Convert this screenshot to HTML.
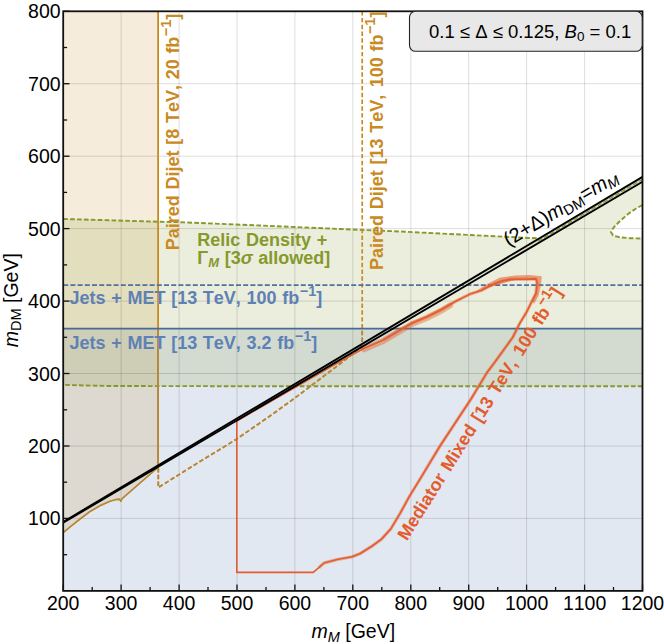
<!DOCTYPE html>
<html><head><meta charset="utf-8"><title>chart</title>
<style>html,body{margin:0;padding:0;background:#fff}svg{display:block}</style></head>
<body>
<svg width="664" height="644" viewBox="0 0 664 644">
<rect width="664" height="644" fill="#fff"/>
<defs><clipPath id="cp"><rect x="63.2" y="11.3" width="579.3" height="579.6"/></clipPath></defs>
<g clip-path="url(#cp)">
<rect x="63.2" y="328.6" width="579.3" height="262.3" fill="#5e81b5" fill-opacity="0.18"/>
<polygon points="63.2,11.3 63.2,532.6 70.0,527.0 78.6,520.1 89.8,511.7 101.0,505.2 110.3,501.1 115.9,499.6 119.6,499.2 120.8,501.3 122.0,498.8 158.1,467.3 158.1,11.3" fill="#c98a22" fill-opacity="0.16"/>
<path d="M63.2 219.0 L100.0 220.0 L157.8 221.7 L180.0 222.2 L260.0 225.5 L340.0 229.0 L400.0 231.5 L460.0 234.5 L520.0 237.5 L538.0 238.3 L538.2 239.0 L642.5 176.9 L642.5 386.2 L560.0 386.2 L400.0 386.2 L225.0 386.2 L160.0 386.1 L110.0 386.0 L85.0 385.5 L63.2 384.8 Z M642.5 205.0 L636.0 208.5 L628.0 214.0 L620.0 221.0 L614.0 227.0 L611.0 232.0 L613.0 235.5 L620.0 237.3 L630.0 238.2 L642.5 238.6 Z" fill="#86992d" fill-opacity="0.17" fill-rule="evenodd"/>
<line x1="121.1" y1="11.3" x2="121.1" y2="590.9" stroke="#000" stroke-opacity="0.135" stroke-width="1"/>
<line x1="179.1" y1="11.3" x2="179.1" y2="590.9" stroke="#000" stroke-opacity="0.135" stroke-width="1"/>
<line x1="237.0" y1="11.3" x2="237.0" y2="590.9" stroke="#000" stroke-opacity="0.135" stroke-width="1"/>
<line x1="294.9" y1="11.3" x2="294.9" y2="590.9" stroke="#000" stroke-opacity="0.135" stroke-width="1"/>
<line x1="352.8" y1="11.3" x2="352.8" y2="590.9" stroke="#000" stroke-opacity="0.135" stroke-width="1"/>
<line x1="410.8" y1="11.3" x2="410.8" y2="590.9" stroke="#000" stroke-opacity="0.135" stroke-width="1"/>
<line x1="468.7" y1="11.3" x2="468.7" y2="590.9" stroke="#000" stroke-opacity="0.135" stroke-width="1"/>
<line x1="526.6" y1="11.3" x2="526.6" y2="590.9" stroke="#000" stroke-opacity="0.135" stroke-width="1"/>
<line x1="584.6" y1="11.3" x2="584.6" y2="590.9" stroke="#000" stroke-opacity="0.135" stroke-width="1"/>
<line x1="63.2" y1="518.4" x2="642.5" y2="518.4" stroke="#000" stroke-opacity="0.135" stroke-width="1"/>
<line x1="63.2" y1="446.0" x2="642.5" y2="446.0" stroke="#000" stroke-opacity="0.135" stroke-width="1"/>
<line x1="63.2" y1="373.5" x2="642.5" y2="373.5" stroke="#000" stroke-opacity="0.135" stroke-width="1"/>
<line x1="63.2" y1="301.1" x2="642.5" y2="301.1" stroke="#000" stroke-opacity="0.135" stroke-width="1"/>
<line x1="63.2" y1="228.6" x2="642.5" y2="228.6" stroke="#000" stroke-opacity="0.135" stroke-width="1"/>
<line x1="63.2" y1="156.2" x2="642.5" y2="156.2" stroke="#000" stroke-opacity="0.135" stroke-width="1"/>
<line x1="63.2" y1="83.7" x2="642.5" y2="83.7" stroke="#000" stroke-opacity="0.135" stroke-width="1"/>
<polyline points="63.2,219.0 100.0,220.0 157.8,221.7 180.0,222.2 260.0,225.5 340.0,229.0 400.0,231.5 460.0,234.5 520.0,237.5 538.0,238.3" fill="none" stroke="#86992d" stroke-width="1.9" stroke-dasharray="4.7 2.2"/>
<polyline points="642.5,386.2 560.0,386.2 400.0,386.2 225.0,386.2 160.0,386.1 110.0,386.0 85.0,385.5 63.2,384.8" fill="none" stroke="#86992d" stroke-width="1.9" stroke-dasharray="4.7 2.2"/>
<polyline points="642.5,205.0 636.0,208.5 628.0,214.0 620.0,221.0 614.0,227.0 611.0,232.0 613.0,235.5 620.0,237.3 630.0,238.2 642.5,238.6" fill="none" stroke="#86992d" stroke-width="1.9" stroke-dasharray="4.7 2.2"/>
<polyline points="63.2,532.6 70.0,527.0 78.6,520.1 89.8,511.7 101.0,505.2 110.3,501.1 115.9,499.6 119.6,499.2 120.8,501.3 122.0,498.8 158.1,467.3" fill="none" stroke="#c98a22" stroke-width="1.5" stroke-linejoin="round"/>
<line x1="158.1" y1="11.3" x2="158.1" y2="468" stroke="#c98a22" stroke-width="1.8"/>
<polyline points="158.3,468.0 158.3,487.5 200.0,461.5 236.0,439.5 270.0,416.0 294.9,398.0 320.0,379.0 344.6,360.3 356.0,351.0 362.2,346.0 362.2,11.3" fill="none" stroke="#c98a22" stroke-width="1.7" stroke-dasharray="4.4 2.4" stroke-linejoin="round"/>
<clipPath id="below"><rect x="63.2" y="328.6" width="579.3" height="262.3"/></clipPath>
<g clip-path="url(#below)">
<polyline points="63.2,532.6 70.0,527.0 78.6,520.1 89.8,511.7 101.0,505.2 110.3,501.1 115.9,499.6 119.6,499.2 120.8,501.3 122.0,498.8 158.1,467.3" fill="none" stroke="#b6883c" stroke-width="1.5" stroke-linejoin="round"/>
<line x1="158.1" y1="11.3" x2="158.1" y2="468" stroke="#b6883c" stroke-width="1.8"/>
<polyline points="158.3,468.0 158.3,487.5 200.0,461.5 236.0,439.5 270.0,416.0 294.9,398.0 320.0,379.0 344.6,360.3 356.0,351.0 362.2,346.0 362.2,11.3" fill="none" stroke="#b6883c" stroke-width="1.7" stroke-dasharray="4.4 2.4" stroke-linejoin="round"/>
</g>
<line x1="63.2" y1="285.2" x2="642.5" y2="285.2" stroke="#4f719f" stroke-width="1.7" stroke-dasharray="5 2.2"/>
<line x1="63.2" y1="328.6" x2="642.5" y2="328.6" stroke="#486a96" stroke-width="1.7"/>
<polyline points="364.1,349.3 383.4,340.9 397.8,332.4 412.3,324.0 426.7,318.0 441.2,310.8 450.0,305.5" fill="none" stroke="#e35c2e" stroke-opacity="0.42" stroke-width="6" stroke-linejoin="round" stroke-linecap="round"/>
<polygon points="476.0,291.0 488.0,283.5 500.0,277.6 515.0,275.6 530.0,275.0 541.8,276.3 541.0,285.0 538.5,296.0 534.0,304.0 532.4,300.3 535.9,293.3 537.1,282.8 535.9,278.9 517.3,279.3" fill="#e35c2e" fill-opacity="0.55"/>
<polyline points="318.8,567.7 324.0,563.0 338.0,559.3 352.0,556.8 359.8,553.7 372.2,546.0 381.5,539.1 390.8,528.9 400.1,513.4 409.4,496.3 420.0,479.2 440.0,446.0 471.0,399.0 480.0,384.2 487.0,372.6 494.0,363.2 503.3,350.4 512.6,337.6 519.6,323.6 526.6,312.0 532.4,300.3 535.9,293.3 537.1,282.8 535.9,278.9 526.6,279.3 517.3,279.3 510.1,279.4 503.0,280.8 495.7,283.3 488.0,287.0 481.2,290.5 470.1,294.1 455.7,301.3 441.2,309.8 426.7,317.0 412.3,323.0 397.8,331.4 383.4,339.9" fill="none" stroke="#e35c2e" stroke-opacity="0.4" stroke-width="3.4" stroke-linejoin="round"/>
<polyline points="236.8,421.0 236.8,572.4 313.2,572.4 318.8,567.7 324.0,563.0 338.0,559.3 352.0,556.8 359.8,553.7 372.2,546.0 381.5,539.1 390.8,528.9 400.1,513.4 409.4,496.3 420.0,479.2 440.0,446.0 471.0,399.0 480.0,384.2 487.0,372.6 494.0,363.2 503.3,350.4 512.6,337.6 519.6,323.6 526.6,312.0 532.4,300.3 535.9,293.3 537.1,282.8 535.9,278.9 526.6,279.3 517.3,279.3 510.1,279.4 503.0,280.8 495.7,283.3 488.0,287.0 481.2,290.5 470.1,294.1 455.7,301.3 441.2,309.8 426.7,317.0 412.3,323.0 397.8,331.4 383.4,339.9 364.1,348.3 340.0,361.6 300.0,384.5 260.0,407.6 236.8,421.0" fill="none" stroke="#e35c2e" stroke-width="1.6" stroke-linejoin="round"/>
<polygon points="63.2,521.9 642.5,176.9 642.5,181.8 63.2,522.7" fill="#999" fill-opacity="0.22"/>
<polyline points="538.2,241.1 642.5,179.3" fill="none" stroke="#86992d" stroke-width="1.2" stroke-dasharray="4.7 2.2"/>
<line x1="63.2" y1="521.9" x2="642.5" y2="176.9" stroke="#000" stroke-width="1.9"/>
<line x1="63.2" y1="522.7" x2="642.5" y2="181.8" stroke="#000" stroke-width="1.9"/>
</g>
<rect x="63.2" y="11.3" width="579.3" height="579.6" fill="none" stroke="#111" stroke-width="1.8"/>
<line x1="63.2" y1="590.9" x2="63.2" y2="584.6" stroke="#111" stroke-width="1.3"/>
<line x1="92.2" y1="590.9" x2="92.2" y2="587.0" stroke="#111" stroke-width="1.3"/>
<line x1="121.1" y1="590.9" x2="121.1" y2="584.6" stroke="#111" stroke-width="1.3"/>
<line x1="150.1" y1="590.9" x2="150.1" y2="587.0" stroke="#111" stroke-width="1.3"/>
<line x1="179.1" y1="590.9" x2="179.1" y2="584.6" stroke="#111" stroke-width="1.3"/>
<line x1="208.0" y1="590.9" x2="208.0" y2="587.0" stroke="#111" stroke-width="1.3"/>
<line x1="237.0" y1="590.9" x2="237.0" y2="584.6" stroke="#111" stroke-width="1.3"/>
<line x1="266.0" y1="590.9" x2="266.0" y2="587.0" stroke="#111" stroke-width="1.3"/>
<line x1="294.9" y1="590.9" x2="294.9" y2="584.6" stroke="#111" stroke-width="1.3"/>
<line x1="323.9" y1="590.9" x2="323.9" y2="587.0" stroke="#111" stroke-width="1.3"/>
<line x1="352.8" y1="590.9" x2="352.8" y2="584.6" stroke="#111" stroke-width="1.3"/>
<line x1="381.8" y1="590.9" x2="381.8" y2="587.0" stroke="#111" stroke-width="1.3"/>
<line x1="410.8" y1="590.9" x2="410.8" y2="584.6" stroke="#111" stroke-width="1.3"/>
<line x1="439.7" y1="590.9" x2="439.7" y2="587.0" stroke="#111" stroke-width="1.3"/>
<line x1="468.7" y1="590.9" x2="468.7" y2="584.6" stroke="#111" stroke-width="1.3"/>
<line x1="497.7" y1="590.9" x2="497.7" y2="587.0" stroke="#111" stroke-width="1.3"/>
<line x1="526.6" y1="590.9" x2="526.6" y2="584.6" stroke="#111" stroke-width="1.3"/>
<line x1="555.6" y1="590.9" x2="555.6" y2="587.0" stroke="#111" stroke-width="1.3"/>
<line x1="584.6" y1="590.9" x2="584.6" y2="584.6" stroke="#111" stroke-width="1.3"/>
<line x1="613.5" y1="590.9" x2="613.5" y2="587.0" stroke="#111" stroke-width="1.3"/>
<line x1="642.5" y1="590.9" x2="642.5" y2="584.6" stroke="#111" stroke-width="1.3"/>
<line x1="63.2" y1="554.7" x2="67.10000000000001" y2="554.7" stroke="#111" stroke-width="1.3"/>
<line x1="63.2" y1="518.4" x2="69.5" y2="518.4" stroke="#111" stroke-width="1.3"/>
<line x1="63.2" y1="482.2" x2="67.10000000000001" y2="482.2" stroke="#111" stroke-width="1.3"/>
<line x1="63.2" y1="446.0" x2="69.5" y2="446.0" stroke="#111" stroke-width="1.3"/>
<line x1="63.2" y1="409.8" x2="67.10000000000001" y2="409.8" stroke="#111" stroke-width="1.3"/>
<line x1="63.2" y1="373.5" x2="69.5" y2="373.5" stroke="#111" stroke-width="1.3"/>
<line x1="63.2" y1="337.3" x2="67.10000000000001" y2="337.3" stroke="#111" stroke-width="1.3"/>
<line x1="63.2" y1="301.1" x2="69.5" y2="301.1" stroke="#111" stroke-width="1.3"/>
<line x1="63.2" y1="264.9" x2="67.10000000000001" y2="264.9" stroke="#111" stroke-width="1.3"/>
<line x1="63.2" y1="228.6" x2="69.5" y2="228.6" stroke="#111" stroke-width="1.3"/>
<line x1="63.2" y1="192.4" x2="67.10000000000001" y2="192.4" stroke="#111" stroke-width="1.3"/>
<line x1="63.2" y1="156.2" x2="69.5" y2="156.2" stroke="#111" stroke-width="1.3"/>
<line x1="63.2" y1="120.0" x2="67.10000000000001" y2="120.0" stroke="#111" stroke-width="1.3"/>
<line x1="63.2" y1="83.7" x2="69.5" y2="83.7" stroke="#111" stroke-width="1.3"/>
<line x1="63.2" y1="47.5" x2="67.10000000000001" y2="47.5" stroke="#111" stroke-width="1.3"/>
<line x1="63.2" y1="11.3" x2="69.5" y2="11.3" stroke="#111" stroke-width="1.3"/>
<text x="63.2" y="610.3" font-family="Liberation Sans, sans-serif" style="font-kerning:none" font-size="19.5" text-anchor="middle" fill="#000">200</text>
<text x="121.1" y="610.3" font-family="Liberation Sans, sans-serif" style="font-kerning:none" font-size="19.5" text-anchor="middle" fill="#000">300</text>
<text x="179.1" y="610.3" font-family="Liberation Sans, sans-serif" style="font-kerning:none" font-size="19.5" text-anchor="middle" fill="#000">400</text>
<text x="237.0" y="610.3" font-family="Liberation Sans, sans-serif" style="font-kerning:none" font-size="19.5" text-anchor="middle" fill="#000">500</text>
<text x="294.9" y="610.3" font-family="Liberation Sans, sans-serif" style="font-kerning:none" font-size="19.5" text-anchor="middle" fill="#000">600</text>
<text x="352.8" y="610.3" font-family="Liberation Sans, sans-serif" style="font-kerning:none" font-size="19.5" text-anchor="middle" fill="#000">700</text>
<text x="410.8" y="610.3" font-family="Liberation Sans, sans-serif" style="font-kerning:none" font-size="19.5" text-anchor="middle" fill="#000">800</text>
<text x="468.7" y="610.3" font-family="Liberation Sans, sans-serif" style="font-kerning:none" font-size="19.5" text-anchor="middle" fill="#000">900</text>
<text x="526.6" y="610.3" font-family="Liberation Sans, sans-serif" style="font-kerning:none" font-size="19.5" text-anchor="middle" fill="#000">1000</text>
<text x="584.6" y="610.3" font-family="Liberation Sans, sans-serif" style="font-kerning:none" font-size="19.5" text-anchor="middle" fill="#000">1100</text>
<text x="642.5" y="610.3" font-family="Liberation Sans, sans-serif" style="font-kerning:none" font-size="19.5" text-anchor="middle" fill="#000">1200</text>
<text x="60.6" y="525.4" font-family="Liberation Sans, sans-serif" style="font-kerning:none" font-size="19.5" text-anchor="end" fill="#000">100</text>
<text x="60.6" y="453.0" font-family="Liberation Sans, sans-serif" style="font-kerning:none" font-size="19.5" text-anchor="end" fill="#000">200</text>
<text x="60.6" y="380.5" font-family="Liberation Sans, sans-serif" style="font-kerning:none" font-size="19.5" text-anchor="end" fill="#000">300</text>
<text x="60.6" y="308.1" font-family="Liberation Sans, sans-serif" style="font-kerning:none" font-size="19.5" text-anchor="end" fill="#000">400</text>
<text x="60.6" y="235.6" font-family="Liberation Sans, sans-serif" style="font-kerning:none" font-size="19.5" text-anchor="end" fill="#000">500</text>
<text x="60.6" y="163.2" font-family="Liberation Sans, sans-serif" style="font-kerning:none" font-size="19.5" text-anchor="end" fill="#000">600</text>
<text x="60.6" y="90.7" font-family="Liberation Sans, sans-serif" style="font-kerning:none" font-size="19.5" text-anchor="end" fill="#000">700</text>
<text x="60.6" y="18.3" font-family="Liberation Sans, sans-serif" style="font-kerning:none" font-size="19.5" text-anchor="end" fill="#000">800</text>
<text x="311.5" y="638.2" font-family="Liberation Sans, sans-serif" style="font-kerning:none" font-size="19.5" fill="#000"><tspan font-style="italic">m</tspan><tspan font-style="italic" font-size="14.5" dy="3.6">M</tspan><tspan dy="-3.6"> [GeV]</tspan></text>
<text transform="translate(17.6,347.2) rotate(-90)" font-family="Liberation Sans, sans-serif" style="font-kerning:none" font-size="19.5" fill="#000"><tspan font-style="italic">m</tspan><tspan font-size="14.5" dy="3.6">DM</tspan><tspan dy="-3.6"> [GeV]</tspan></text>
<rect x="409.5" y="11.3" width="232.7" height="40" rx="6" ry="6" fill="#e8e8e8" stroke="#222" stroke-width="1.1"/>
<text x="429.0" y="37.9" font-family="Liberation Sans, sans-serif" style="font-kerning:none" font-size="18.5" fill="#000">0.1 ≤ Δ ≤ 0.125, <tspan font-style="italic">B</tspan><tspan font-size="13.5" dy="3.4">0</tspan><tspan dy="-3.4"> = 0.1</tspan></text>
<text transform="translate(179.0,250.2) rotate(-90)" font-family="Liberation Sans, sans-serif" style="font-kerning:none;word-spacing:0.7px" font-size="18" font-weight="bold" fill="#c98a22">Paired Dijet [8 TeV, 20 fb<tspan font-size="14.5" dy="-8" dx="0.4">−1</tspan><tspan dy="8">]</tspan></text>
<text transform="translate(383.0,270.0) rotate(-90)" font-family="Liberation Sans, sans-serif" style="font-kerning:none;word-spacing:0.7px" font-size="18" font-weight="bold" fill="#c98a22">Paired Dijet [13 TeV,<tspan dx="1.9"> </tspan>100 fb<tspan font-size="14.5" dy="-8" dx="0.4">−1</tspan><tspan dy="8">]</tspan></text>
<text x="197.3" y="246.1" font-family="Liberation Sans, sans-serif" style="font-kerning:none;word-spacing:0.7px" font-size="18" font-weight="bold" fill="#86992d">Relic Density +</text>
<text x="197.3" y="263.5" font-family="Liberation Sans, sans-serif" style="font-kerning:none;word-spacing:0.7px" font-size="18" font-weight="bold" fill="#86992d">Γ<tspan font-style="italic" font-size="13" dy="3">M</tspan><tspan dy="-3"> [3</tspan><tspan font-style="italic">σ</tspan> allowed]</text>
<text x="69.5" y="303.8" font-family="Liberation Sans, sans-serif" style="font-kerning:none;word-spacing:0.7px" font-size="18" font-weight="bold" fill="#5e81b5">Jets + MET [13 TeV, 100 fb<tspan font-size="14.5" dy="-8" dx="0.4">−1</tspan><tspan dy="8">]</tspan></text>
<text x="69.5" y="348.5" font-family="Liberation Sans, sans-serif" style="font-kerning:none;word-spacing:0.7px" font-size="18" font-weight="bold" fill="#5e81b5">Jets + MET [13 TeV, 3.2 fb<tspan font-size="14.5" dy="-8" dx="0.4">−1</tspan><tspan dy="8">]</tspan></text>
<text transform="translate(407,541.5) rotate(-58)" font-family="Liberation Sans, sans-serif" style="font-kerning:none;word-spacing:1.5px" font-size="18" font-weight="bold" fill="#e35c2e">Mediator Mixed [13 TeV,<tspan dx="1.2"> </tspan>100 fb<tspan font-size="14.5" dy="-8" dx="0.4">−1</tspan><tspan dy="8">]</tspan></text>
<text transform="translate(508.5,246.8) rotate(-30.8)" font-family="Liberation Sans, sans-serif" style="font-kerning:none" font-size="20" fill="#000">(2+Δ)<tspan font-style="italic">m</tspan><tspan font-size="14.5" dy="3.5">DM</tspan><tspan dy="-3.5">=</tspan><tspan font-style="italic">m</tspan><tspan font-style="italic" font-size="14.5" dy="3.5">M</tspan></text>
</svg>
</body></html>
